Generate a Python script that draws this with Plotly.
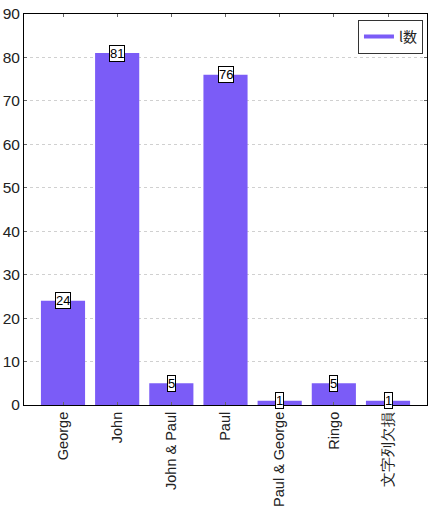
import plotly.graph_objects as go

categories = ["George", "John", "John & Paul", "Paul", "Paul & George", "Ringo", "文字列欠損"]
values = [24, 81, 5, 76, 1, 5, 1]
series_name = "l数"
bar_color = "#7B5CF7"

fig = go.Figure()
fig.add_trace(go.Bar(x=categories, y=values, marker=dict(color=bar_color, line=dict(width=0)),
                     showlegend=False, name=series_name))
fig.add_trace(go.Scatter(x=[None], y=[None], mode="lines", line=dict(color=bar_color, width=4),
                         name=series_name, showlegend=True))

for c, v in zip(categories, values):
    fig.add_annotation(x=c, y=v, text=str(v), showarrow=False, yanchor="middle",
                       font=dict(size=13, color="black", family="Liberation Sans Narrow, Liberation Sans"),
                       bgcolor="white", bordercolor="black", borderwidth=1, borderpad=0)

axis_common = dict(showline=True, linecolor="black", linewidth=1, mirror="ticks",
                   ticks="inside", ticklen=3, tickcolor="#666", automargin=False)
fig.update_xaxes(**axis_common, tickangle=-90, showgrid=False, range=[-0.72, 6.72],
                 tickfont=dict(size=14.5, color="#222", family="Liberation Sans"))
fig.update_yaxes(**axis_common, range=[0, 90], dtick=10, showgrid=True, gridcolor="#d0d0d0",
                 griddash="dot", zeroline=False,
                 tickfont=dict(size=15.5, color="#222", family="Liberation Sans"))

fig.update_layout(
    width=433, height=510, margin=dict(l=24, r=6, t=14, b=105),
    plot_bgcolor="white", paper_bgcolor="white", bargap=0.185,
    legend=dict(x=0.99, y=0.985, xanchor="right", yanchor="top", bordercolor="#333", borderwidth=1,
                bgcolor="white", font=dict(size=14, family="Noto Sans CJK JP", color="#222"),
                itemwidth=30, tracegroupgap=0),
)
fig.write_html("out.html")
